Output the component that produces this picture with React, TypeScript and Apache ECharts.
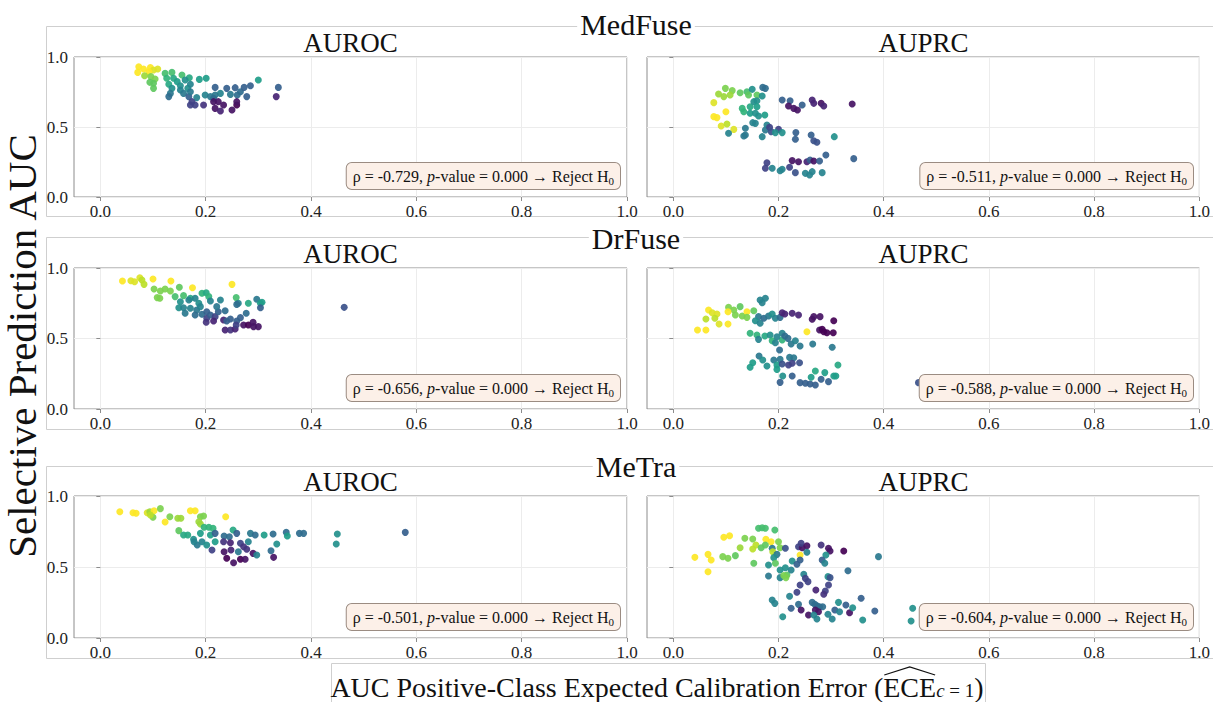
import React, { useEffect, useRef } from "react";
import * as echarts from "echarts";

// [ECE, selective AUC, colour value (0 = dark purple ... 1 = yellow)]
const medfuseAuroc = [
  [0.073,0.93,1],[0.071,0.89,1],[0.082,0.914,1],[0.095,0.924,1],[0.101,0.907,0.95],[0.109,0.914,0.95],[0.092,0.895,1],
  [0.084,0.866,0.85],[0.096,0.86,0.8],[0.104,0.843,0.8],[0.101,0.812,0.75],[0.101,0.776,0.75],[0.094,0.819,0.75],
  [0.123,0.883,0.7],[0.136,0.89,0.7],[0.155,0.871,0.7],[0.126,0.848,0.65],[0.139,0.848,0.6],[0.169,0.852,0.6],
  [0.13,0.805,0.6],[0.146,0.824,0.55],[0.152,0.795,0.5],[0.161,0.836,0.5],[0.188,0.84,0.55],[0.201,0.848,0.55],
  [0.136,0.776,0.5],[0.152,0.764,0.45],[0.166,0.776,0.5],[0.171,0.805,0.45],
  [0.133,0.74,0.4],[0.13,0.717,0.35],[0.158,0.74,0.4],[0.168,0.717,0.3],[0.171,0.752,0.4],[0.183,0.71,0.45],
  [0.199,0.729,0.45],[0.209,0.717,0.4],[0.218,0.783,0.3],[0.228,0.74,0.45],[0.24,0.776,0.3],[0.256,0.781,0.3],
  [0.266,0.752,0.35],[0.273,0.783,0.3],[0.285,0.795,0.3],[0.3,0.836,0.55],[0.338,0.783,0.3],[0.334,0.717,0.1],
  [0.247,0.733,0.4],[0.26,0.729,0.35],[0.278,0.717,0.3],[0.218,0.729,0.4],[0.215,0.705,0.35],
  [0.174,0.681,0.2],[0.171,0.657,0.2],[0.18,0.657,0.2],[0.196,0.657,0.15],[0.215,0.681,0.05],[0.224,0.681,0.05],
  [0.218,0.633,0.05],[0.228,0.614,0.1],[0.234,0.657,0.05],[0.25,0.621,0.05],[0.259,0.657,0],[0.259,0.681,0.05],
];

const medfuseAuprc = [
  [0.099,0.776,0.8],[0.112,0.76,0.8],[0.086,0.736,0.85],[0.096,0.717,0.85],[0.108,0.729,0.85],[0.127,0.745,0.75],
  [0.14,0.752,0.7],[0.15,0.769,0.5],[0.17,0.783,0.35],[0.175,0.776,0.35],[0.143,0.729,0.75],[0.159,0.729,0.75],
  [0.169,0.721,0.5],[0.077,0.674,0.95],[0.1,0.609,1],[0.077,0.574,1],[0.083,0.567,1],[0.091,0.507,0.95],
  [0.102,0.521,0.9],[0.115,0.483,0.95],[0.105,0.455,0.45],[0.131,0.633,0.65],[0.134,0.609,0.65],[0.146,0.645,0.6],
  [0.153,0.681,0.5],[0.159,0.688,0.5],[0.159,0.645,0.55],[0.146,0.598,0.55],[0.156,0.598,0.5],[0.162,0.579,0.5],
  [0.174,0.586,0.55],[0.151,0.531,0.45],[0.156,0.526,0.45],[0.137,0.491,0.4],[0.137,0.443,0.4],[0.134,0.436,0.4],
  [0.169,0.431,0.45],[0.175,0.479,0.4],[0.178,0.514,0.45],[0.183,0.498,0.2],[0.186,0.467,0.25],[0.2,0.483,0.2],
  [0.207,0.46,0.5],[0.194,0.46,0.5],[0.207,0.693,0.3],[0.222,0.688,0.3],[0.219,0.65,0.05],[0.229,0.633,0.05],
  [0.236,0.621,0.05],[0.245,0.657,0.3],[0.264,0.693,0.1],[0.267,0.669,0.1],[0.281,0.669,0.05],[0.286,0.65,0.1],
  [0.34,0.664,0.05],[0.233,0.46,0.3],[0.232,0.412,0.3],[0.262,0.443,0.3],[0.267,0.402,0.25],[0.273,0.391,0.25],
  [0.306,0.431,0.5],[0.178,0.245,0.2],[0.175,0.205,0.2],[0.188,0.205,0.45],[0.203,0.188,0.45],[0.207,0.198,0.45],
  [0.221,0.212,0.2],[0.226,0.26,0.05],[0.232,0.174,0.25],[0.238,0.252,0.05],[0.251,0.169,0.45],[0.254,0.252,0.1],
  [0.26,0.264,0.3],[0.264,0.181,0.45],[0.267,0.257,0.05],[0.278,0.257,0.3],[0.283,0.174,0.45],[0.29,0.3,0.3],
  [0.343,0.274,0.3],[0.259,0.157,0.45],
];

const drfuseAuroc = [
  [0.042,0.908,1],[0.058,0.91,0.95],[0.065,0.903,0.95],[0.075,0.931,0.95],[0.079,0.915,0.9],[0.083,0.884,0.9],
  [0.1,0.922,1],[0.134,0.908,1],[0.175,0.86,1],[0.25,0.884,1],[0.102,0.851,0.8],[0.114,0.837,0.8],[0.123,0.851,0.8],
  [0.133,0.837,0.8],[0.15,0.863,0.75],[0.108,0.79,0.8],[0.113,0.785,0.8],[0.142,0.797,0.7],[0.158,0.804,0.7],
  [0.171,0.785,0.6],[0.193,0.821,0.65],[0.201,0.825,0.6],[0.206,0.797,0.65],[0.258,0.79,0.7],[0.152,0.761,0.5],
  [0.168,0.773,0.45],[0.18,0.785,0.45],[0.187,0.75,0.5],[0.209,0.766,0.45],[0.228,0.773,0.45],[0.262,0.75,0.45],
  [0.281,0.75,0.6],[0.297,0.778,0.4],[0.304,0.75,0.55],[0.307,0.757,0.55],[0.304,0.718,0.3],[0.259,0.742,0.35],
  [0.149,0.718,0.5],[0.158,0.718,0.45],[0.161,0.679,0.4],[0.171,0.714,0.45],[0.183,0.702,0.4],[0.19,0.726,0.45],
  [0.18,0.667,0.35],[0.193,0.672,0.35],[0.202,0.69,0.3],[0.202,0.643,0.2],[0.209,0.667,0.3],[0.218,0.655,0.2],
  [0.224,0.69,0.3],[0.221,0.726,0.4],[0.237,0.697,0.35],[0.201,0.615,0.15],[0.215,0.624,0.1],[0.234,0.631,0.1],
  [0.24,0.624,0.3],[0.247,0.638,0.3],[0.259,0.624,0.3],[0.266,0.648,0.3],[0.277,0.679,0.35],[0.237,0.56,0.1],
  [0.247,0.56,0.15],[0.256,0.567,0.1],[0.272,0.596,0.05],[0.281,0.596,0],[0.291,0.584,0.05],[0.29,0.615,0.05],
  [0.3,0.584,0.05],[0.258,0.596,0.2],[0.463,0.721,0.25],
];

const drfuseAuprc = [
  [0.165,0.773,0.45],[0.175,0.785,0.45],[0.169,0.754,0.45],[0.067,0.702,1],[0.074,0.683,0.95],[0.083,0.674,0.95],
  [0.079,0.643,0.9],[0.062,0.638,0.9],[0.105,0.721,0.8],[0.115,0.702,0.8],[0.127,0.726,0.75],[0.104,0.69,1],
  [0.118,0.667,0.8],[0.131,0.66,0.8],[0.14,0.69,1],[0.14,0.65,0.8],[0.153,0.697,0.75],[0.087,0.603,0.95],
  [0.104,0.603,1],[0.046,0.56,1],[0.062,0.56,1],[0.162,0.655,0.4],[0.156,0.626,0.5],[0.165,0.608,0.45],
  [0.172,0.643,0.35],[0.181,0.66,0.4],[0.188,0.674,0.5],[0.194,0.643,0.45],[0.203,0.65,0.35],[0.207,0.683,0.1],
  [0.212,0.674,0.1],[0.226,0.679,0.1],[0.238,0.667,0.1],[0.264,0.636,0.05],[0.267,0.655,0.05],[0.279,0.655,0.05],
  [0.305,0.626,0],[0.278,0.56,0.05],[0.286,0.548,0],[0.292,0.541,0],[0.304,0.541,0],[0.283,0.565,0],
  [0.254,0.548,1],[0.146,0.537,0.65],[0.159,0.525,0.65],[0.162,0.494,0.45],[0.174,0.518,0.6],[0.184,0.525,0.5],
  [0.188,0.484,0.65],[0.194,0.47,0.45],[0.207,0.489,0.65],[0.197,0.513,0.45],[0.207,0.537,0.45],[0.212,0.518,0.35],
  [0.218,0.501,0.35],[0.202,0.418,0.35],[0.224,0.461,0.4],[0.232,0.484,0.45],[0.241,0.447,0.4],[0.265,0.461,0.4],
  [0.302,0.438,0.4],[0.163,0.376,0.4],[0.17,0.348,0.5],[0.151,0.328,0.55],[0.146,0.296,0.55],[0.178,0.305,0.5],
  [0.191,0.348,0.4],[0.203,0.352,0.4],[0.197,0.312,0.55],[0.197,0.281,0.55],[0.207,0.319,0.25],[0.221,0.366,0.4],
  [0.229,0.364,0.4],[0.219,0.312,0.2],[0.226,0.324,0.2],[0.24,0.328,0.25],[0.208,0.234,0.5],[0.226,0.234,0.3],
  [0.203,0.189,0.3],[0.241,0.187,0.3],[0.251,0.182,0.3],[0.26,0.177,0.3],[0.27,0.17,0.3],[0.262,0.225,0.55],
  [0.27,0.27,0.6],[0.281,0.211,0.3],[0.288,0.258,0.55],[0.295,0.194,0.3],[0.305,0.234,0.55],[0.309,0.234,0.55],
  [0.313,0.312,0.6],[0.466,0.187,0.25],
];

const metraAuroc = [
  [0.037,0.889,1],[0.062,0.882,1],[0.068,0.878,1],[0.089,0.882,0.95],[0.094,0.889,0.85],[0.102,0.896,1],
  [0.114,0.911,0.8],[0.1,0.85,0.8],[0.095,0.866,0.9],[0.123,0.817,1],[0.132,0.854,0.8],[0.147,0.843,0.85],
  [0.153,0.843,0.85],[0.171,0.896,1],[0.18,0.896,1],[0.19,0.854,0.8],[0.196,0.859,0.8],[0.187,0.819,0.85],
  [0.19,0.803,0.85],[0.238,0.854,1],[0.197,0.78,0.65],[0.206,0.78,0.65],[0.214,0.772,0.65],[0.149,0.756,0.75],
  [0.158,0.725,0.6],[0.166,0.725,0.6],[0.19,0.737,0.55],[0.209,0.725,0.55],[0.218,0.737,0.3],[0.177,0.695,0.5],
  [0.184,0.655,0.4],[0.178,0.678,0.45],[0.193,0.678,0.45],[0.202,0.655,0.5],[0.212,0.62,0.2],[0.218,0.678,0.55],
  [0.235,0.718,0.35],[0.252,0.761,0.6],[0.259,0.737,0.3],[0.245,0.713,0.35],[0.234,0.678,0.15],[0.247,0.671,0.1],
  [0.235,0.608,0.05],[0.24,0.561,0],[0.248,0.62,0.1],[0.253,0.53,0.05],[0.262,0.608,0.4],[0.266,0.667,0.2],
  [0.272,0.643,0.15],[0.281,0.678,0.45],[0.285,0.737,0.4],[0.294,0.725,0.35],[0.278,0.625,0.15],[0.266,0.554,0],
  [0.275,0.554,0.05],[0.29,0.596,0.05],[0.297,0.585,0.45],[0.311,0.725,0.55],[0.328,0.732,0.35],[0.335,0.662,0.5],
  [0.324,0.615,0.35],[0.329,0.568,0.05],[0.353,0.744,0.35],[0.355,0.718,0.55],[0.378,0.737,0.35],[0.386,0.737,0.35],
  [0.45,0.732,0.5],[0.448,0.662,0.5],[0.579,0.744,0.3],
];

const metraAuprc = [
  [0.041,0.568,1],[0.066,0.589,1],[0.072,0.549,1],[0.066,0.467,1],[0.096,0.709,1],[0.107,0.72,1],
  [0.094,0.573,0.8],[0.104,0.561,0.8],[0.118,0.58,0.75],[0.127,0.636,0.85],[0.136,0.702,0.8],[0.151,0.697,0.8],
  [0.151,0.627,0.9],[0.157,0.655,0.9],[0.153,0.526,0.75],[0.162,0.773,0.7],[0.169,0.777,0.7],[0.175,0.773,0.7],
  [0.193,0.761,0.7],[0.176,0.695,1],[0.186,0.678,1],[0.167,0.636,0.75],[0.175,0.655,0.75],[0.2,0.678,0.8],
  [0.203,0.636,0.8],[0.188,0.632,0.4],[0.189,0.608,0.9],[0.197,0.589,0.4],[0.191,0.566,0.5],[0.181,0.514,0.5],
  [0.194,0.526,0.75],[0.181,0.437,0.4],[0.203,0.479,0.5],[0.213,0.495,0.5],[0.216,0.444,0.75],[0.203,0.425,0.45],
  [0.213,0.632,0.25],[0.226,0.542,0.5],[0.224,0.479,0.45],[0.214,0.425,0.8],[0.21,0.44,0.8],[0.238,0.643,0.2],
  [0.245,0.636,0.05],[0.243,0.667,0.2],[0.254,0.65,0.05],[0.254,0.604,0.45],[0.241,0.585,1],[0.241,0.549,0.3],
  [0.235,0.519,0.3],[0.248,0.449,0.45],[0.251,0.42,0.2],[0.256,0.397,0.2],[0.241,0.373,0.2],[0.281,0.655,0.15],
  [0.295,0.632,0.05],[0.298,0.613,0.05],[0.29,0.585,0.5],[0.283,0.549,0.3],[0.288,0.526,0.45],[0.324,0.613,0],
  [0.332,0.474,0.35],[0.294,0.432,0.5],[0.298,0.425,0.25],[0.295,0.373,0.2],[0.289,0.331,0.2],[0.286,0.308,0.15],
  [0.271,0.338,0.1],[0.235,0.322,0.2],[0.221,0.294,0.45],[0.188,0.268,0.45],[0.193,0.244,0.45],[0.208,0.15,0.5],
  [0.224,0.209,0.3],[0.238,0.237,0.35],[0.243,0.197,0.05],[0.257,0.162,0.05],[0.264,0.251,0.35],[0.269,0.237,0.35],
  [0.273,0.227,0.35],[0.278,0.22,0.35],[0.284,0.22,0.35],[0.27,0.197,0.05],[0.276,0.185,0.05],[0.267,0.162,0.45],
  [0.273,0.134,0.45],[0.294,0.167,0.45],[0.302,0.134,0.45],[0.307,0.197,0.3],[0.314,0.251,0.5],[0.316,0.185,0.45],
  [0.328,0.232,0.3],[0.335,0.178,0.05],[0.341,0.213,0.5],[0.357,0.28,0.3],[0.36,0.127,0.5],[0.383,0.19,0.3],
  [0.39,0.573,0.4],[0.455,0.209,0.5],[0.452,0.12,0.5],
];

const models = ["MedFuse", "DrFuse", "MeTra"];
const metrics = ["AUROC", "AUPRC"];
const panelData = [medfuseAuroc, medfuseAuprc, drfuseAuroc, drfuseAuprc, metraAuroc, metraAuprc];
const rhos = ["-0.729", "-0.511", "-0.656", "-0.588", "-0.501", "-0.604"];
const xTicks = [0, 0.2, 0.4, 0.6, 0.8, 1.0];
const yLabel = "Selective Prediction AUC";
const xLabelMain = "AUC Positive-Class Expected Calibration Error (";

const VIRIDIS = ["#440154", "#482878", "#3e4989", "#31688e", "#26828e", "#1f9e89", "#35b779", "#6ece58", "#b5de2b", "#fde725"];
const SERIF = '"Liberation Serif", "Times New Roman", serif';

const colLeft = [74, 647];
const plotW = 553;
const rowTop = [57, 268, 496];
const rowH = [140, 141, 142];
const frameTop = [26.5, 237.5, 466.5];
const frameBottom = [216.5, 429.5, 658.5];

export default function App() {
  const ref = useRef<HTMLDivElement>(null);
  useEffect(() => {
    if (!ref.current) return;
    const chart = echarts.init(ref.current, null, { renderer: "svg" });

    const grids: any[] = [];
    const xAxes: any[] = [];
    const yAxes: any[] = [];
    const series: any[] = [];
    const graphics: any[] = [];

    for (let r = 0; r < 3; r++) {
      graphics.push({
        type: "rect", silent: true, z: 0,
        shape: { x: 46.5, y: frameTop[r], width: 1175, height: frameBottom[r] - frameTop[r] },
        style: { fill: "none", stroke: "#cfcfcf", lineWidth: 1 },
      });
    }

    for (let i = 0; i < 6; i++) {
      const r = Math.floor(i / 2);
      const c = i % 2;
      grids.push({
        left: colLeft[c], top: rowTop[r], width: plotW, height: rowH[r],
        show: true, borderColor: "#8c8c8c", borderWidth: 1, backgroundColor: "transparent",
      });
      xAxes.push({
        type: "value", gridIndex: i, min: -0.05, max: 1.0,
        axisLine: { show: false },
        axisTick: { show: true, length: 4, lineStyle: { color: "#8c8c8c" }, customValues: xTicks },
        axisLabel: {
          customValues: xTicks, margin: 6, fontFamily: SERIF, fontSize: 17, color: "#222",
          formatter: (v: number) => v.toFixed(1),
        },
        splitLine: { show: true, lineStyle: { color: "#ececec", width: 1 } },
      });
      yAxes.push({
        type: "value", gridIndex: i, min: 0, max: 1, interval: 0.5,
        axisLine: { show: false },
        axisTick: { show: true, length: 4, lineStyle: { color: "#8c8c8c" } },
        axisLabel: {
          show: c === 0, margin: 6, fontFamily: SERIF, fontSize: 17, color: "#222",
          formatter: (v: number) => v.toFixed(1),
        },
        splitLine: { show: true, lineStyle: { color: "#ececec", width: 1 } },
      });
      series.push({
        type: "scatter", xAxisIndex: i, yAxisIndex: i,
        data: panelData[i], symbolSize: 7,
        itemStyle: { opacity: 0.92 },
      });

      graphics.push({
        type: "text", z: 10,
        x: colLeft[c] + plotW / 2, y: rowTop[r] - 14,
        style: {
          text: metrics[c], fontFamily: SERIF, fontSize: 27, fill: "#111",
          align: "center", verticalAlign: "middle",
        },
      });
      graphics.push({
        type: "text", z: 10,
        x: colLeft[c] + plotW - 7, y: rowTop[r] + rowH[r] - 21,
        style: {
          text: `{a|ρ = ${rhos[i]}, }{i|p}{a|-value = 0.000 → Reject H}{s|0}`,
          align: "right", verticalAlign: "middle",
          backgroundColor: "#fcf0e8", borderColor: "#9b8c82", borderWidth: 1, borderRadius: 5,
          padding: [3, 6, 3, 6],
          rich: {
            a: { fontFamily: SERIF, fontSize: 16, fill: "#111", lineHeight: 20 },
            i: { fontFamily: SERIF, fontSize: 16, fontStyle: "italic", fill: "#111", lineHeight: 20 },
            s: { fontFamily: SERIF, fontSize: 11, fill: "#111", lineHeight: 12, verticalAlign: "bottom" },
          },
        },
      });
    }

    const titleY = [24, 238, 466];
    for (let r = 0; r < 3; r++) {
      graphics.push({
        type: "text", z: 20,
        x: 636, y: titleY[r],
        style: {
          text: models[r], fontFamily: SERIF, fontSize: 30, fill: "#111",
          align: "center", verticalAlign: "middle",
          backgroundColor: "#fff", padding: [0, 3],
        },
      });
    }

    graphics.push({
      type: "text", z: 20, x: 22, y: 346, rotation: Math.PI / 2,
      style: {
        text: yLabel, fontFamily: SERIF, fontSize: 41, fill: "#111",
        align: "center", verticalAlign: "middle", lineHeight: 40,
      },
    });

    const xlFont = 28;
    const subFont = 19;
    const cx = 657;
    const xly = 687;
    let wPre = 0, wEce = 0, wTotal = 0;
    try {
      const ctx = document.createElement("canvas").getContext("2d")!;
      ctx.font = `${xlFont}px ${SERIF}`;
      wPre = ctx.measureText(xLabelMain).width;
      wEce = ctx.measureText("ECE").width;
      const wClose = ctx.measureText(")").width;
      ctx.font = `italic ${subFont}px ${SERIF}`;
      const wc = ctx.measureText("c").width;
      ctx.font = `${subFont}px ${SERIF}`;
      const wEq = ctx.measureText(" = 1").width;
      wTotal = wPre + wEce + wc + wEq + wClose;
    } catch (e) {
      wPre = 560; wEce = 53; wTotal = 650;
    }
    const left = cx - wTotal / 2;
    graphics.push({
      type: "rect", silent: true, z: 0,
      shape: { x: 331.5, y: 663.5, width: 654, height: 60 },
      style: { fill: "none", stroke: "#cfcfcf", lineWidth: 1 },
    });
    graphics.push({
      type: "text", z: 20, x: cx, y: xly,
      style: {
        text: `{n|${xLabelMain}ECE}{c|c}{e| = 1}{n|)}`,
        align: "center", verticalAlign: "middle",
        rich: {
          n: { fontFamily: SERIF, fontSize: xlFont, fill: "#111", lineHeight: 26 },
          c: { fontFamily: SERIF, fontSize: subFont, fontStyle: "italic", fill: "#111", lineHeight: 12, verticalAlign: "bottom" },
          e: { fontFamily: SERIF, fontSize: subFont, fill: "#111", lineHeight: 12, verticalAlign: "bottom" },
        },
      },
    });
    const hx0 = left + wPre + 1;
    const hx1 = left + wPre + wEce - 1;
    graphics.push({
      type: "polyline", z: 20,
      shape: { points: [[hx0, 675], [(hx0 + hx1) / 2, 667], [hx1, 675]] },
      style: { stroke: "#111", lineWidth: 1.2, fill: "none" },
    });

    chart.setOption({
      animation: false,
      backgroundColor: "#fff",
      grid: grids,
      xAxis: xAxes,
      yAxis: yAxes,
      visualMap: {
        show: false, type: "continuous", dimension: 2, min: 0, max: 1,
        seriesIndex: [0, 1, 2, 3, 4, 5],
        inRange: { color: VIRIDIS },
      },
      series,
      graphic: graphics,
    });
    return () => chart.dispose();
  }, []);
  return <div ref={ref} style={{ position: "fixed", left: 0, top: 0, width: 1213, height: 702 }} />;
}
